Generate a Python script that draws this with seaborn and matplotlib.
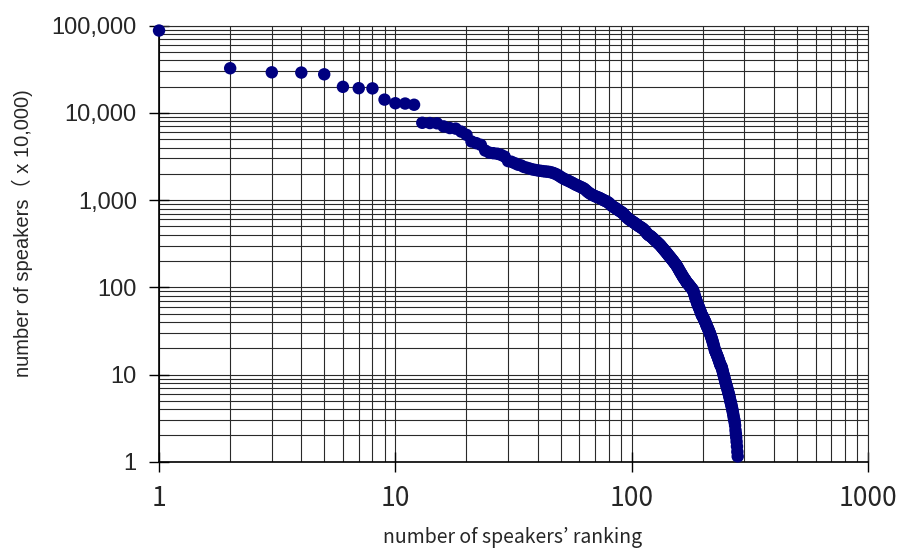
import matplotlib
matplotlib.use("Agg")
import matplotlib.pyplot as plt
from matplotlib.ticker import FuncFormatter, LogLocator, NullFormatter
import numpy as np
import pandas as pd
import seaborn as sns

# speakers (x 10,000) for each ranking position
speakers = [
    88000, 32500, 29200, 29000, 27700, 19900, 19200, 19100, 14200, 12900,
    12800, 12400, 7700, 7650, 7600, 7000, 6700, 6600, 6100, 5600,
    4700, 4500, 4300, 3700, 3500, 3450, 3400, 3300, 3150, 2800,
    2750, 2650, 2550, 2500, 2400, 2350, 2300, 2250, 2220, 2190,
    2170, 2150, 2130, 2120, 2100, 2070, 2030, 1980, 1920, 1850,
    1790, 1740, 1700, 1660, 1620, 1580, 1540, 1500, 1470, 1440,
    1410, 1380, 1350, 1300, 1250, 1210, 1180, 1150, 1130, 1110,
    1090, 1075, 1060, 1040, 1020, 1000, 985, 970, 950, 930,
    900, 870, 850, 830, 815, 800, 780, 765, 750, 735,
    720, 706, 680, 660, 640, 625, 610, 595, 585, 575,
    565, 555, 545, 535, 525, 515, 505, 497, 490, 482,
    475, 465, 455, 443, 430, 416, 405, 398, 392, 387,
    380, 373, 365, 357, 350, 343, 337, 330, 323, 317,
    311, 305, 297, 290, 283, 277, 270, 264, 258, 252,
    246, 240, 234, 229, 224, 219, 214, 209, 204, 200,
    195, 190, 186, 182, 177, 172, 167, 162, 157, 152,
    148, 144, 140, 136, 132, 129, 126, 123, 120, 117,
    114, 112, 110, 108, 106, 104, 102, 100, 98, 96,
    94, 93, 88, 84, 80, 76, 73, 70, 67, 64,
    62, 60, 58, 56, 54, 52, 50, 48, 47, 46,
    45, 43.5, 42, 41, 40, 38.5, 37, 36, 35, 34,
    33, 32, 31, 30, 29, 28, 27, 26, 25, 24,
    23, 22, 21, 20, 19, 18.5, 18, 17.5, 17, 16.5,
    16, 15.5, 15, 14.5, 14, 13.5, 13, 12.7, 12.5, 12.3,
    11.8, 11.3, 10.8, 10.3, 9.9, 9.5, 9.1, 8.7, 8.3, 8.0,
    7.7, 7.4, 7.2, 6.9, 6.6, 6.4, 6.1, 5.9, 5.6, 5.4,
    5.1, 4.9, 4.7, 4.5, 4.3, 4.1, 3.9, 3.7, 3.5, 3.3,
    3.1, 3.0, 2.8, 2.6, 2.3, 2.1, 1.9, 1.7, 1.5, 1.3,
    1.15,
]
ranking = list(range(1, len(speakers) + 1))

x_ticks = [1, 10, 100, 1000]
x_ticklabels = ["1", "10", "100", "1000"]
y_ticks = [1, 10, 100, 1000, 10000, 100000]

df = pd.DataFrame({"ranking": ranking, "speakers": speakers})

sns.set_theme(style="white")

fig = plt.figure(figsize=(8.99, 5.5), dpi=100)
ax = fig.add_axes([0.1769, 0.1605, 0.7886, 0.7928])

sns.scatterplot(data=df, x="ranking", y="speakers", ax=ax, color="#000080",
                s=80, edgecolor="none", linewidth=0, legend=False, zorder=3,
                clip_on=False)

ax.set_xscale("log")
ax.set_yscale("log")
ax.set_xlim(1, 1000)
ax.set_ylim(1, 100000)

ax.xaxis.set_major_locator(LogLocator(base=10))
ax.xaxis.set_minor_locator(LogLocator(base=10, subs=np.arange(2, 10)))
ax.yaxis.set_major_locator(LogLocator(base=10))
ax.yaxis.set_minor_locator(LogLocator(base=10, subs=np.arange(2, 10)))
ax.xaxis.set_minor_formatter(NullFormatter())
ax.yaxis.set_minor_formatter(NullFormatter())

ax.set_xticks(x_ticks)
ax.set_xticklabels(x_ticklabels, family=["Noto Sans CJK JP", "DejaVu Sans"],
                   fontsize=19)
ax.set_yticks(y_ticks)
ax.yaxis.set_major_formatter(FuncFormatter(lambda v, p: f"{int(round(v)):,}"))
for lab in ax.get_yticklabels():
    lab.set_family("Liberation Sans")
    lab.set_fontsize(17)

ax.grid(True, which="both", color="#2a2a2a", linewidth=0.8)
ax.set_axisbelow(True)

ax.tick_params(axis="both", which="major", direction="inout", length=14,
               width=1, color="black", left=True, bottom=True)
ax.tick_params(axis="x", which="major", pad=10)
ax.tick_params(axis="y", which="major", pad=9)
ax.tick_params(which="minor", length=0)

for side in ["top", "right"]:
    ax.spines[side].set_color("#2a2a2a")
    ax.spines[side].set_linewidth(0.8)
for side in ["left", "bottom"]:
    ax.spines[side].set_color("black")
    ax.spines[side].set_linewidth(1.2)

ax.set_xlabel("number of speakers\u2019 ranking",
              family=["Noto Sans CJK JP", "DejaVu Sans"], fontsize=14)
ax.xaxis.set_label_coords(0.498, -0.150)
ax.set_ylabel("number of speakers\uff08 x 10,000)",
              family=["Liberation Sans", "Noto Sans CJK JP"], fontsize=14.5)
ax.yaxis.set_label_coords(-0.178, 0.525)

fig.savefig("out.png", dpi=100)
